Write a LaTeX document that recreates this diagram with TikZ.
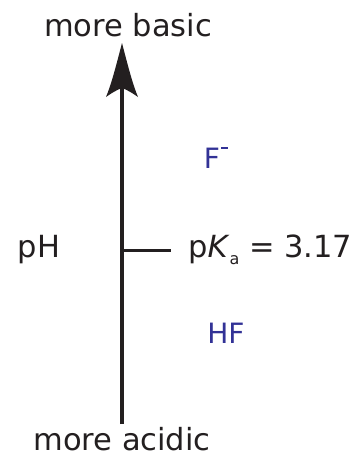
\documentclass[tikz,border=0pt]{standalone}
\usepackage{fontspec}
\setmainfont{DejaVu Sans}
\definecolor{spblue}{RGB}{50,50,150}
\definecolor{txt}{RGB}{35,31,32}
\begin{document}
\begin{tikzpicture}[x=1pt,y=-1pt,
  lbl/.style={inner sep=0pt,text=txt,font=\fontsize{30.5}{33}\selectfont},
  spc/.style={inner sep=0pt,text=spblue,font=\fontsize{28}{31}\selectfont}]
\useasboundingbox (0,0) rectangle (360,456);
\coordinate (bot) at (122,424);
\coordinate (tip) at (122,43);
\coordinate (notch) at (122,88);
\coordinate (tick) at (122,250);
\coordinate (tickend) at (171,250);
\node[lbl] (basic) at (128,25) {more basic};
\node[lbl] (acidic) at (122,439) {more acidic};
\node[lbl] (ph) at (39,250) {pH};
\node[lbl,anchor=west] (pka) at (188,250) {p\textit{K}\raisebox{-0.45ex}{\fontsize{16}{18}\selectfont a} = 3.17};
\node[spc] (fm) at (216,158) {F\hspace{1pt}\raisebox{0.72em}{\rule{7pt}{1.4pt}}};
\node[spc] (hf) at (226,333) {HF};
\draw[line width=3.8pt,txt] (bot) -- (notch);
\fill[txt] (tip) .. controls (115,70) and (111,85) .. (106,97)
  .. controls (113,92) and (117,90) .. (notch)
  .. controls (127,90) and (131,92) .. (138,97)
  .. controls (133,85) and (129,70) .. (tip) -- cycle;
\draw[line width=3pt,txt] (tick) -- (tickend);
\end{tikzpicture}
\end{document}
